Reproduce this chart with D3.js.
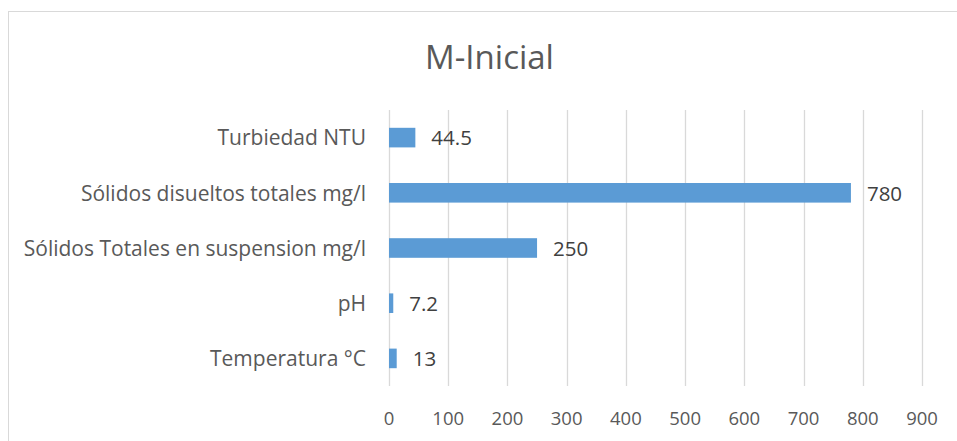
<!DOCTYPE html>
<html><head><meta charset="utf-8">
<script src="https://cdn.jsdelivr.net/npm/d3@7/dist/d3.min.js"></script>
<style>
html,body{margin:0;padding:0;background:#fff;}
svg{display:block;}
text{font-family:"Open Sans","Liberation Sans",sans-serif;}
</style></head>
<body>
<script>
const title = "M-Inicial";
const categories = ["Turbiedad NTU","Sólidos disueltos totales mg/l","Sólidos Totales en suspension mg/l","pH","Temperatura °C"];
const values = [44.5, 780, 250, 7.2, 13];
const valueLabels = ["44.5","780","250","7.2","13"];
const ticks = [0,100,200,300,400,500,600,700,800,900];

const W = 957, H = 441;
const svg = d3.select("body").append("svg").attr("width", W).attr("height", H);

svg.append("rect").attr("x", 8.5).attr("y", 11.5).attr("width", 1000).attr("height", 500)
  .attr("fill", "#fff").attr("stroke", "#d9d9d9").attr("stroke-width", 1);

const x = d3.scaleLinear().domain([0, 900]).range([389, 922]);
const y = d3.scaleBand().domain(categories).range([110, 386]).paddingInner(0.645).paddingOuter(0.3225);

svg.append("g").selectAll("line").data(ticks).join("line")
  .attr("x1", d => Math.round(x(d)) + 0.5).attr("x2", d => Math.round(x(d)) + 0.5)
  .attr("y1", 110).attr("y2", 386)
  .attr("stroke", "#d9d9d9").attr("stroke-width", 1.3);

svg.append("g").selectAll("text").data(ticks).join("text")
  .attr("x", d => x(d)).attr("y", 425)
  .attr("text-anchor", "middle").attr("fill", "#595959").attr("font-size", 18.5)
  .text(d => d);

svg.append("g").selectAll("rect").data(values).join("rect")
  .attr("x", x(0)).attr("y", (d, i) => y(categories[i]))
  .attr("width", d => x(d) - x(0)).attr("height", y.bandwidth())
  .attr("fill", "#5b9bd5");

svg.append("g").selectAll("text").data(values).join("text")
  .attr("x", d => x(d) + 16).attr("y", (d, i) => y(categories[i]) + y.bandwidth() / 2)
  .attr("dy", "0.38em").attr("fill", "#404040").attr("font-size", 20.5)
  .text((d, i) => valueLabels[i]);

svg.append("g").selectAll("text").data(categories).join("text")
  .attr("x", 366).attr("y", d => y(d) + y.bandwidth() / 2)
  .attr("dy", "0.37em").attr("text-anchor", "end").attr("fill", "#595959").attr("font-size", 21)
  .text(d => d);

svg.append("text").attr("x", 489.5).attr("y", 69)
  .attr("text-anchor", "middle").attr("fill", "#595959").attr("font-size", 33)
  .text(title);
</script>
</body></html>
